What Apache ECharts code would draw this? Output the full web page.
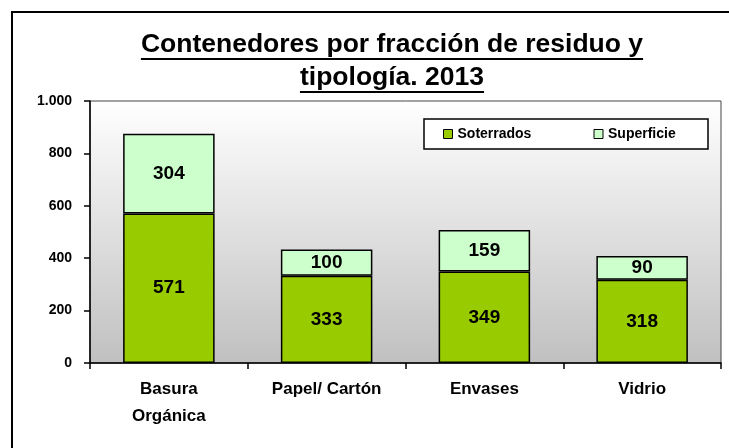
<!DOCTYPE html>
<html><head><meta charset="utf-8">
<script src="https://cdn.jsdelivr.net/npm/echarts@6/dist/echarts.min.js"></script>
<style>html,body{margin:0;padding:0;background:#fff}#c{width:729px;height:448px}</style>
</head><body><div id="c"></div>
<script>
var categories = ['Basura\nOrgánica', 'Papel/ Cartón', 'Envases', 'Vidrio'];
var soterrados = [571, 333, 349, 318];
var superficie = [304, 100, 159, 90];
var titleLines = ['Contenedores por fracción de residuo y', 'tipología. 2013'];
var yTicks = { min: 0, max: 1000, interval: 200 };

var FONT = '"Liberation Sans", Arial, sans-serif';
var chart = echarts.init(document.getElementById('c'));

function textWidth(t, font) {
  var cv = document.createElement('canvas').getContext('2d');
  cv.font = font; return cv.measureText(t).width;
}
var titleFont = 'bold 26.5px ' + FONT;
var cx = 392;
var titleY = [45, 78];
var underlineY = [59, 92];
var graphics = [
  { type: 'polyline', shape: { points: [[12, 460], [12, 12], [740, 12]] }, style: { stroke: '#000', lineWidth: 2, fill: null }, z: 10 }
];
titleLines.forEach(function (t, i) {
  var w = textWidth(t, titleFont);
  graphics.push({ type: 'text', x: cx, y: titleY[i], style: { text: t, font: titleFont, fill: '#000', align: 'center', verticalAlign: 'middle' } });
  graphics.push({ type: 'line', shape: { x1: cx - w / 2, y1: underlineY[i], x2: cx + w / 2, y2: underlineY[i] }, style: { stroke: '#000', lineWidth: 2 } });
});

var labelStyle = { show: true, position: 'inside', color: '#000', fontFamily: FONT, fontWeight: 'bold', fontSize: 19 };

chart.setOption({
  animation: false,
  graphic: graphics,
  grid: {
    left: 90, right: 8, top: 101, bottom: 85, show: true, borderColor: '#444', borderWidth: 1,
    backgroundColor: new echarts.graphic.LinearGradient(0, 0, 0, 1, [{ offset: 0, color: '#ffffff' }, { offset: 1, color: '#c0c0c0' }])
  },
  legend: {
    left: 424, top: 119,
    padding: [7, 3, 7, 19], itemGap: 39, itemWidth: 9, itemHeight: 9,
    borderColor: '#000', borderWidth: 1.5, backgroundColor: '#fff',
    icon: 'rect',
    textStyle: { fontFamily: FONT, fontWeight: 'bold', fontSize: 14, color: '#000', width: 97, lineHeight: 16 },
    data: [
      { name: 'Soterrados', itemStyle: { borderColor: '#000', borderWidth: 1 } },
      { name: 'Superficie', itemStyle: { borderColor: '#000', borderWidth: 1 } }
    ]
  },
  xAxis: {
    type: 'category', data: categories,
    axisLine: { lineStyle: { color: '#000', width: 1.5 } },
    axisTick: { show: true, alignWithLabel: false, length: 6, lineStyle: { color: '#000', width: 1.5 } },
    axisLabel: { interval: 0, margin: 13, color: '#000', fontFamily: FONT, fontWeight: 'bold', fontSize: 17, lineHeight: 27 }
  },
  yAxis: {
    type: 'value', min: yTicks.min, max: yTicks.max, interval: yTicks.interval,
    splitLine: { show: false },
    axisLine: { show: true, lineStyle: { color: '#000', width: 1.5 } },
    axisTick: { show: true, length: 6, lineStyle: { color: '#000', width: 1.5 } },
    axisLabel: {
      margin: 18, color: '#000', fontFamily: FONT, fontWeight: 'bold', fontSize: 14,
      formatter: function (v) { return v >= 1000 ? Math.floor(v / 1000) + '.' + String(v % 1000).padStart(3, '0') : String(v); }
    }
  },
  series: [
    { name: 'Soterrados', type: 'bar', stack: 'a', data: soterrados, barCategoryGap: '42%',
      itemStyle: { color: '#99cc00', borderColor: '#000', borderWidth: 1.5 }, label: labelStyle },
    { name: 'Superficie', type: 'bar', stack: 'a', data: superficie,
      itemStyle: { color: '#ccffcc', borderColor: '#000', borderWidth: 1.5 }, label: labelStyle }
  ]
});
</script></body></html>
